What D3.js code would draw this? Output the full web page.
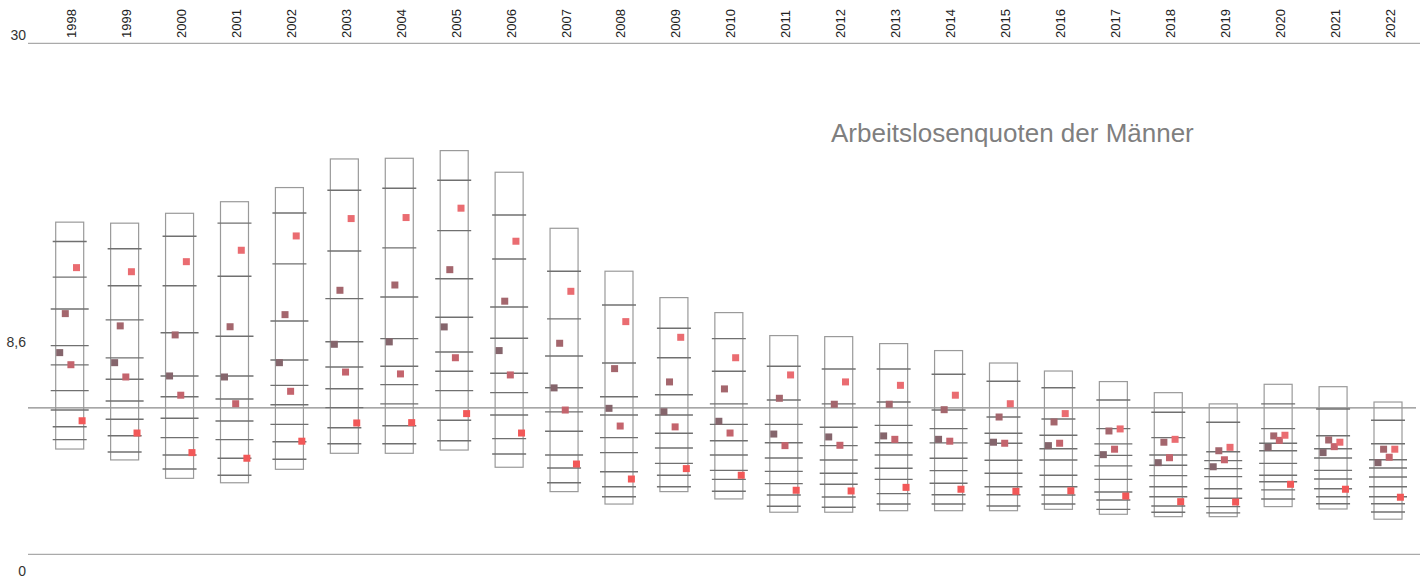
<!DOCTYPE html>
<html>
<head>
<meta charset="utf-8">
<script src="https://cdn.jsdelivr.net/npm/d3@7"></script>
<style>
  body { margin: 0; background: #fff; }
  text { font-family: "Liberation Sans", Arial, sans-serif; }
</style>
</head>
<body>
<div id="chart"></div>
<script>
// Arbeitslosenquoten der Männer, 1998-2022
const years = d3.range(1998, 2023);

const boxMax = [19.50, 19.44, 20.02, 20.70, 21.53, 23.21, 23.25, 23.70, 22.43, 19.14, 16.62, 15.07, 14.19,
  12.84, 12.78, 12.37, 11.96, 11.23, 10.76, 10.14, 9.49, 8.83, 9.98, 9.84, 8.94];
const boxMin = [6.18, 5.54, 4.46, 4.20, 4.99, 5.93, 5.93, 6.12, 5.11, 3.68, 2.95, 3.68, 3.25,
  2.47, 2.47, 2.56, 2.56, 2.56, 2.64, 2.35, 2.21, 2.21, 2.80, 2.66, 2.06];

// the 9 inner lines of each box, top to bottom
const innerLines = [
  [18.36, 16.27, 14.40, 12.25, 11.12, 9.61, 8.47, 7.49, 6.73],
  [17.94, 15.77, 13.76, 11.53, 10.28, 9.00, 7.93, 6.96, 6.01],
  [18.67, 15.77, 13.01, 10.47, 9.25, 7.99, 6.85, 5.83, 5.01],
  [19.44, 16.32, 12.80, 10.47, 9.12, 7.83, 6.73, 5.64, 4.64],
  [20.04, 17.05, 13.70, 11.41, 9.92, 8.78, 7.63, 6.61, 5.58],
  [21.37, 17.81, 15.01, 12.48, 11.00, 9.72, 8.61, 7.43, 6.49],
  [21.49, 17.99, 15.11, 12.66, 11.04, 9.96, 8.83, 7.55, 6.49],
  [21.96, 19.00, 16.18, 13.92, 11.88, 10.75, 9.61, 7.87, 6.67],
  [19.92, 17.34, 14.52, 12.68, 10.63, 9.49, 8.18, 6.79, 5.89],
  [16.62, 13.82, 11.64, 9.78, 8.36, 7.22, 5.83, 5.07, 4.20],
  [14.64, 11.23, 9.25, 8.18, 6.85, 5.97, 4.85, 3.97, 3.38],
  [13.27, 11.54, 9.37, 8.18, 7.11, 6.24, 5.34, 4.64, 3.97],
  [12.66, 10.75, 8.83, 7.63, 6.67, 5.83, 4.93, 4.40, 3.70],
  [11.04, 9.06, 7.63, 6.55, 5.65, 4.87, 4.15, 3.48, 2.82],
  [10.88, 8.83, 7.46, 6.38, 5.54, 4.76, 4.11, 3.36, 2.76],
  [10.88, 8.94, 7.57, 6.55, 5.83, 5.05, 4.40, 3.56, 2.95],
  [10.57, 8.47, 7.38, 6.54, 5.64, 4.91, 4.17, 3.50, 2.95],
  [10.16, 8.06, 7.11, 6.52, 5.52, 4.76, 3.97, 3.50, 2.84],
  [9.78, 7.94, 6.99, 6.20, 5.54, 4.64, 3.97, 3.48, 2.95],
  [9.06, 7.38, 6.48, 5.81, 5.19, 4.40, 3.66, 3.19, 2.64],
  [8.34, 6.85, 5.83, 5.23, 4.62, 3.97, 3.38, 2.84, 2.47],
  [7.75, 6.02, 5.50, 5.03, 4.56, 3.85, 3.29, 2.80, 2.43],
  [8.83, 7.38, 6.52, 6.08, 5.34, 4.64, 4.26, 3.78, 3.25],
  [8.53, 6.96, 6.20, 5.65, 4.93, 4.42, 3.85, 3.38, 2.97],
  [7.87, 6.49, 5.55, 5.07, 4.54, 3.97, 3.38, 2.97, 2.48]
];

// five marker series (squares), left to right inside each box
const seriesNames = ["s1", "s2", "s3", "s4", "s5"];
const s1 = [11.84, 11.25, 10.47, 10.41, 11.25, 12.33, 12.47, 13.35, 11.96, 9.77, 8.57, 8.37, 7.81,
  7.06, 6.89, 6.95, 6.75, 6.58, 6.38, 5.85, 5.38, 5.14, 6.28, 5.97, 5.38];
const s2 = [14.13, 13.41, 12.88, 13.36, 14.07, 15.50, 15.81, 16.71, 14.86, 12.39, 10.90, 10.12, 9.71,
  9.16, 8.81, 8.81, 8.49, 8.06, 7.77, 7.24, 6.58, 6.08, 6.95, 6.71, 6.17];
const s3 = [11.13, 10.41, 9.34, 8.84, 9.57, 10.70, 10.59, 11.54, 10.53, 8.47, 7.53, 7.48, 7.12,
  6.38, 6.40, 6.75, 6.64, 6.52, 6.52, 6.17, 5.67, 5.55, 6.69, 6.32, 5.70];
const s4 = [16.83, 16.59, 17.18, 17.85, 18.69, 19.71, 19.77, 20.32, 18.38, 15.44, 13.66, 12.74, 11.54,
  10.53, 10.12, 9.92, 9.34, 8.84, 8.26, 7.36, 6.75, 6.28, 6.99, 6.58, 6.17];
const s5 = [7.84, 7.12, 5.97, 5.64, 6.64, 7.71, 7.73, 8.26, 7.12, 5.30, 4.42, 5.03, 4.64,
  3.76, 3.72, 3.93, 3.82, 3.70, 3.73, 3.42, 3.09, 3.07, 4.11, 3.82, 3.35];
const seriesValues = [s1, s2, s3, s4, s5];
const seriesColors = ["#85656c", "#a4666d", "#c4646d", "#ea6c71", "#f25858"];

const yTicks = [0, 8.6, 30];
const avgValue = 8.6;
const title = "Arbeitslosenquoten der Männer";

const width = 1424, height = 579;

const y = d3.scaleLinear().domain([0, 30]).range([554.3, 43.3]);
const x = d3.scaleLinear().domain([1998, 2022]).range([69.7, 1388]);
const sx = d3.scalePoint().domain(seriesNames).range([-10, 12.4]);
const fmt = d => String(d).replace(".", ",");

const svg = d3.select("#chart")
  .append("svg")
  .attr("width", width)
  .attr("height", height);

// top and bottom axis lines
svg.selectAll(".frame")
  .data([0, 30])
  .enter()
  .append("line")
  .attr("class", "frame")
  .attr("x1", 28).attr("x2", 1420)
  .attr("y1", d => y(d)).attr("y2", d => y(d))
  .attr("stroke", "#aaa")
  .attr("stroke-width", 1.2);

// average line
svg.append("line")
  .attr("x1", 28).attr("x2", 1416)
  .attr("y1", y(avgValue)).attr("y2", y(avgValue))
  .attr("stroke", "#8a8a8a")
  .attr("stroke-width", 1.2);

// y labels
const labelPos = {0: 576, 8.6: 347, 30: 40};
svg.selectAll(".ylab")
  .data(yTicks)
  .enter()
  .append("text")
  .attr("class", "ylab")
  .attr("x", 26)
  .attr("y", d => labelPos[d])
  .attr("text-anchor", "end")
  .attr("font-size", "14px")
  .attr("fill", "#333")
  .text(fmt);

// year labels
svg.selectAll(".year")
  .data(years)
  .enter()
  .append("text")
  .attr("class", "year")
  .attr("transform", d => "translate(" + (x(d) + 6.5) + ",38) rotate(-90)")
  .attr("text-anchor", "start")
  .attr("font-size", "13px")
  .attr("fill", "#222")
  .text(d => d);

// boxes
const groups = svg.selectAll(".yearbox")
  .data(years)
  .enter()
  .append("g")
  .attr("class", "yearbox")
  .attr("transform", d => "translate(" + x(d) + ",0)");

groups.append("rect")
  .attr("x", -14)
  .attr("width", 28)
  .attr("y", (d, i) => y(boxMax[i]))
  .attr("height", (d, i) => y(boxMin[i]) - y(boxMax[i]))
  .attr("fill", "none")
  .attr("stroke", "#9a9a9a")
  .attr("stroke-width", 1.2);

groups.selectAll(".inner")
  .data((d, i) => innerLines[i])
  .enter()
  .append("line")
  .attr("class", "inner")
  .attr("x1", (d, j) => j >= 2 && j <= 6 ? -19 : -17)
  .attr("x2", (d, j) => j >= 2 && j <= 6 ? 19 : 17)
  .attr("y1", d => y(d)).attr("y2", d => y(d))
  .attr("stroke", "#707070")
  .attr("stroke-width", 1.4);

// squares
seriesNames.forEach((name, k) => {
  groups.append("rect")
    .attr("class", "sq " + name)
    .attr("x", sx(name) - 3.5)
    .attr("y", (d, i) => y(seriesValues[k][i]) - 3.5)
    .attr("width", 7)
    .attr("height", 7)
    .attr("fill", seriesColors[k]);
});

// title
svg.append("text")
  .attr("x", 831)
  .attr("y", 142)
  .attr("font-size", "26px")
  .attr("fill", "#7f7f7f")
  .text(title);
</script>
</body>
</html>
